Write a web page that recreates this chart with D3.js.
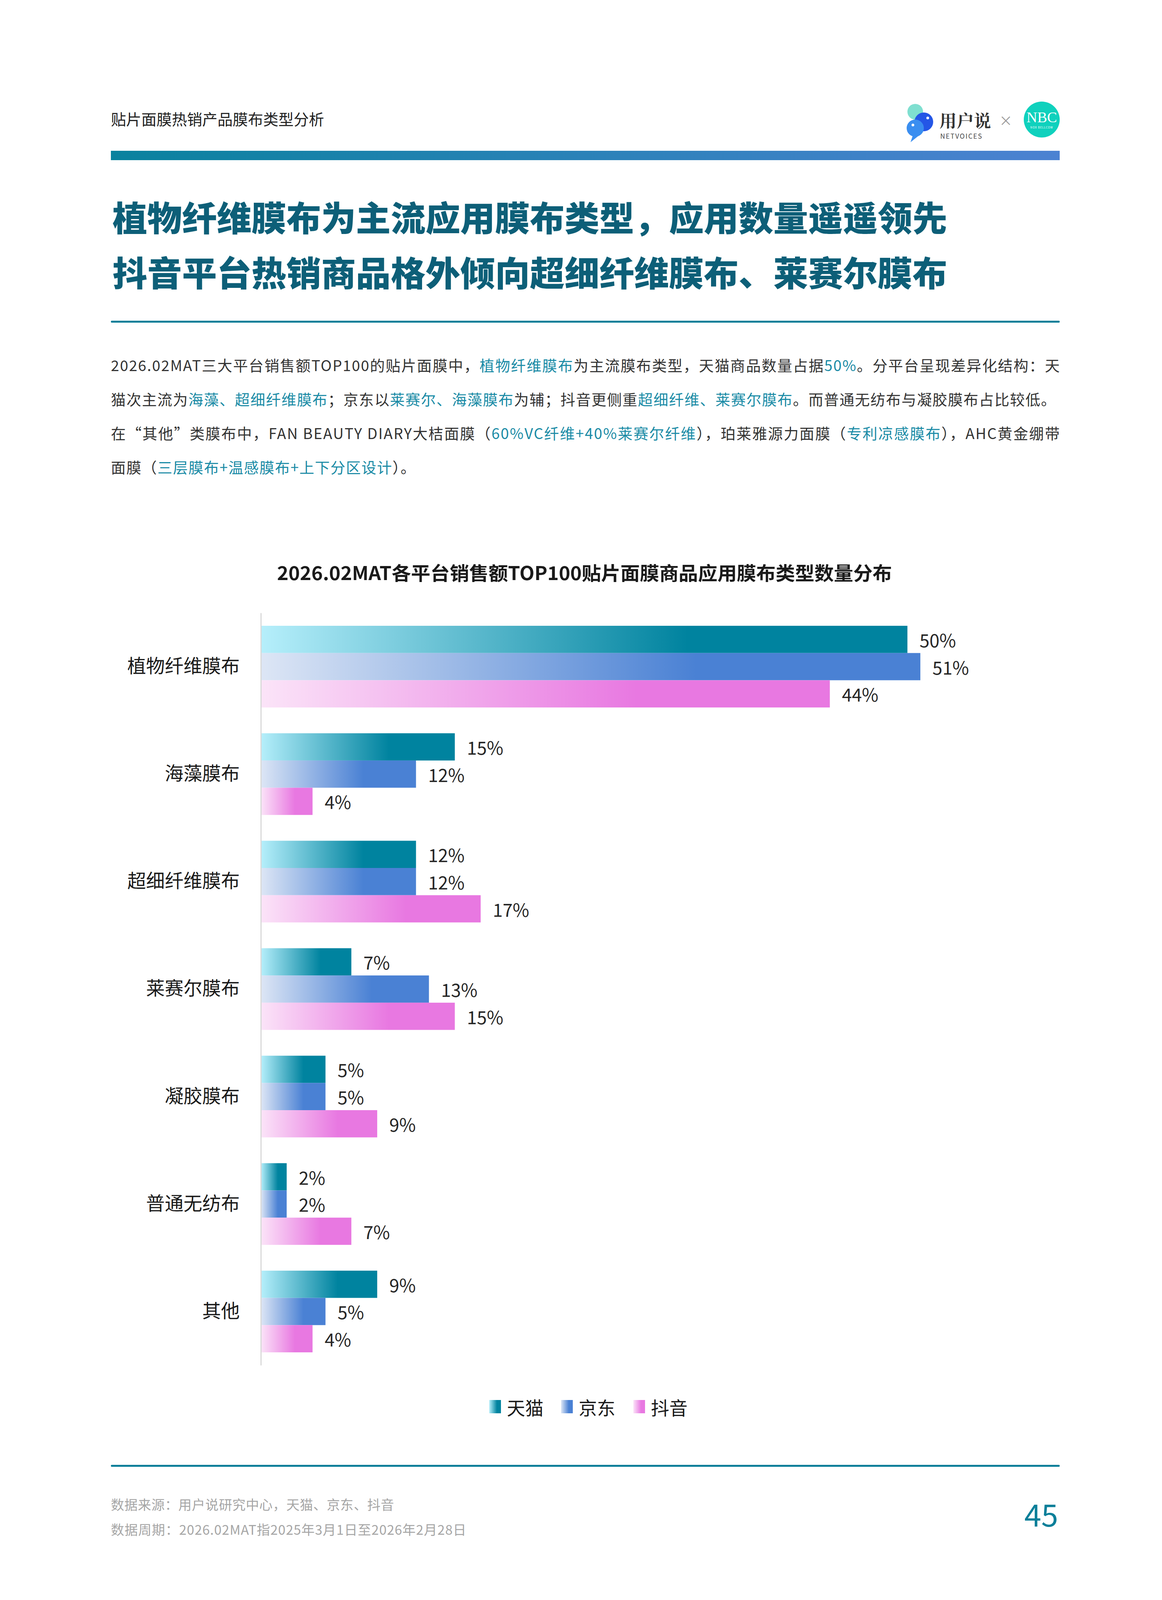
<!DOCTYPE html>
<html>
<head>
<meta charset="utf-8">
<script src="https://cdn.jsdelivr.net/npm/d3@7"></script>
<style>
  body { margin: 0; background: #fff; }
  text { font-family: "Noto Sans CJK SC", "Noto Sans", sans-serif; }
</style>
</head>
<body>
<div id="page"></div>
<script>
var svgWidth = 2976;
var svgHeight = 4210;

// chart data
var categories = ["植物纤维膜布", "海藻膜布", "超细纤维膜布", "莱赛尔膜布", "凝胶膜布", "普通无纺布", "其他"];
var platforms = ["天猫", "京东", "抖音"];
var tmallValues = [50, 15, 12, 7, 5, 2, 9];
var jdValues = [51, 12, 12, 13, 5, 2, 5];
var douyinValues = [44, 4, 17, 15, 9, 7, 4];

var headerText = "贴片面膜热销产品膜布类型分析";
var titleLines = ["植物纤维膜布为主流应用膜布类型，应用数量遥遥领先", "抖音平台热销商品格外倾向超细纤维膜布、莱赛尔膜布"];
var chartTitle = "2026.02MAT各平台销售额TOP100贴片面膜商品应用膜布类型数量分布";
var footerLines = ["数据来源：用户说研究中心，天猫、京东、抖音", "数据周期：2026.02MAT指2025年3月1日至2026年2月28日"];
var pageNumber = "45";

// paragraph: [text, highlighted]
var paraLines = [
  [["2026.02MAT三大平台销售额TOP100的贴片面膜中，", 0], ["植物纤维膜布", 1], ["为主流膜布类型，天猫商品数量占据", 0], ["50%", 1], ["。分平台呈现差异化结构：天", 0]],
  [["猫次主流为", 0], ["海藻、超细纤维膜布", 1], ["；京东以", 0], ["莱赛尔、海藻膜布", 1], ["为辅；抖音更侧重", 0], ["超细纤维、莱赛尔膜布", 1], ["。而普通无纺布与凝胶膜布占比较低。", 0]],
  [["在“其他”类膜布中，FAN BEAUTY DIARY大桔面膜（", 0], ["60%VC纤维+40%莱赛尔纤维", 1], ["），珀莱雅源力面膜（", 0], ["专利凉感膜布", 1], ["），AHC黄金绷带", 0]],
  [["面膜（", 0], ["三层膜布+温感膜布+上下分区设计", 1], ["）。", 0]]
];

var seriesColors = {
  "天猫": ["#b6effb", "#00839f"],
  "京东": ["#dde6f5", "#4a81d4"],
  "抖音": ["#fbe4f8", "#e878e1"]
};

var data = categories.map(function(c, i) {
  return { category: c, values: [tmallValues[i], jdValues[i], douyinValues[i]] };
});

var svg = d3.select("#page")
  .append("svg")
  .attr("width", svgWidth)
  .attr("height", svgHeight);

svg.append("rect").attr("width", svgWidth).attr("height", svgHeight).attr("fill", "#fff");

var defs = svg.append("defs");

platforms.forEach(function(p, i) {
  var g = defs.append("linearGradient")
    .attr("id", "grad" + i)
    .attr("x1", 0).attr("x2", 1).attr("y1", 0).attr("y2", 0);
  g.append("stop").attr("offset", 0).attr("stop-color", seriesColors[p][0]);
  g.append("stop").attr("offset", 0.66).attr("stop-color", seriesColors[p][1]);
  g.append("stop").attr("offset", 1).attr("stop-color", seriesColors[p][1]);
});

var hg = defs.append("linearGradient").attr("id", "headGrad");
hg.append("stop").attr("offset", 0).attr("stop-color", "#0a829e");
hg.append("stop").attr("offset", 1).attr("stop-color", "#4c82d2");

var left = 284, right = 2714;

// header
svg.append("text")
  .attr("x", left).attr("y", 303)
  .attr("dominant-baseline", "central")
  .style("font-size", "39px").attr("fill", "#222")
  .text(headerText);

// logos
var logo = svg.append("g").attr("transform", "translate(2322, 262)");
logo.append("circle").attr("cx", 22).attr("cy", 24).attr("r", 20).attr("fill", "#7fdfd0");
logo.append("circle").attr("cx", 44).attr("cy", 50).attr("r", 24).attr("fill", "#2456e6");
logo.append("circle").attr("cx", 22).attr("cy", 66).attr("r", 22).attr("fill", "#3a8ef0");
logo.append("path").attr("d", "M16,84 L10,102 L30,86 Z").attr("fill", "#3a8ef0");
logo.append("circle").attr("cx", 54).attr("cy", 40).attr("r", 3.5).attr("fill", "#fff");
logo.append("circle").attr("cx", 16).attr("cy", 58).attr("r", 3.5).attr("fill", "#fff");
logo.append("text").attr("x", 84).attr("y", 45)
  .attr("dominant-baseline", "central")
  .style("font-size", "44px").style("font-family", "'Noto Serif CJK SC', 'Noto Sans CJK SC', serif")
  .style("font-weight", 700).attr("fill", "#333").text("用户说");
logo.append("text").attr("x", 86).attr("y", 85)
  .attr("dominant-baseline", "central")
  .style("font-size", "17px").style("letter-spacing", "2px").attr("fill", "#444").text("NETVOICES");
svg.append("text").attr("x", 2576).attr("y", 307)
  .attr("text-anchor", "middle").attr("dominant-baseline", "central")
  .style("font-size", "34px").attr("fill", "#999").text("×");
var nbc = svg.append("g").attr("transform", "translate(2668, 306)");
nbc.append("circle").attr("r", 46).attr("fill", "#0fd1bd");
nbc.append("text").attr("y", -6).attr("text-anchor", "middle").attr("dominant-baseline", "central")
  .style("font-family", "'Liberation Serif', serif").style("font-size", "38px").attr("fill", "#fff").text("NBC");
nbc.append("text").attr("y", 20).attr("text-anchor", "middle").attr("dominant-baseline", "central")
  .style("font-size", "7px").style("letter-spacing", "1px").attr("fill", "#fff").text("NOX BELLCOW");

svg.append("rect")
  .attr("x", left).attr("y", 386)
  .attr("width", right - left).attr("height", 24)
  .attr("fill", "url(#headGrad)");

// main title
svg.selectAll(".title-line")
  .data(titleLines)
  .enter()
  .append("text")
  .attr("class", "title-line")
  .attr("x", left + 4)
  .attr("y", function(d, i) { return 552 + i * 141; })
  .attr("dominant-baseline", "central")
  .style("font-size", "88px").style("font-weight", 900)
  .attr("fill", "#0d5f78")
  .attr("textLength", 2138)
  .attr("lengthAdjust", "spacingAndGlyphs")
  .text(function(d) { return d; });

svg.append("rect")
  .attr("x", left).attr("y", 821)
  .attr("width", right - left).attr("height", 5)
  .attr("rx", 2)
  .attr("fill", "#0b7f99");

// paragraph
var para = svg.selectAll(".para-line")
  .data(paraLines)
  .enter()
  .append("text")
  .attr("class", "para-line")
  .attr("x", left)
  .attr("y", function(d, i) { return 933 + i * 87; })
  .attr("dominant-baseline", "central")
  .style("font-size", "38px")
  .each(function(d, i) {
    if (i < 3) {
      d3.select(this).attr("textLength", i === 1 ? 2420 : right - left).attr("lengthAdjust", "spacing");
    } else {
      d3.select(this).attr("textLength", 780).attr("lengthAdjust", "spacing");
    }
  });

para.selectAll("tspan")
  .data(function(d) { return d; })
  .enter()
  .append("tspan")
  .attr("fill", function(d) { return d[1] ? "#1a8ba6" : "#333"; })
  .text(function(d) { return d[0]; });

// chart
svg.append("text")
  .attr("x", 1497).attr("y", 1464)
  .attr("text-anchor", "middle").attr("dominant-baseline", "central")
  .style("font-size", "48px").style("font-weight", 700)
  .attr("fill", "#1a1a1a")
  .attr("textLength", 1575)
  .attr("lengthAdjust", "spacingAndGlyphs")
  .text(chartTitle);

var axisX = 668;

var y0 = d3.scaleBand()
  .domain(categories)
  .range([1569, 3495])
  .paddingInner(0.24)
  .paddingOuter(0.12);

var y1 = d3.scaleBand()
  .domain(platforms)
  .range([0, y0.bandwidth()]);

var xScale = d3.scaleLinear()
  .domain([0, 50])
  .range([axisX, 2324]);

var groups = svg.selectAll(".group")
  .data(data)
  .enter()
  .append("g")
  .attr("class", "group")
  .attr("transform", function(d) { return "translate(0," + y0(d.category) + ")"; });

var cells = groups.selectAll(".cell")
  .data(function(d) { return d.values.map(function(v, i) { return { platform: platforms[i], idx: i, value: v }; }); })
  .enter()
  .append("g")
  .attr("class", "cell");

cells.append("rect")
  .attr("x", xScale(0))
  .attr("y", function(d) { return y1(d.platform); })
  .attr("width", function(d) { return xScale(d.value) - xScale(0); })
  .attr("height", y1.bandwidth())
  .attr("fill", function(d) { return "url(#grad" + d.idx + ")"; });

cells.append("text")
  .attr("x", function(d) { return xScale(d.value) + 31; })
  .attr("y", function(d) { return y1(d.platform) + y1.bandwidth() / 2; })
  .attr("dominant-baseline", "central")
  .style("font-size", "46px")
  .attr("fill", "#262626")
  .text(function(d) { return d.value + "%"; });

var leftAxis = d3.axisLeft(y0).tickSize(0).tickPadding(54);
var axisG = svg.append("g")
  .attr("transform", "translate(" + axisX + ",0)")
  .call(leftAxis);
axisG.select(".domain").attr("stroke", "#d9d9d9").attr("stroke-width", 3);
axisG.selectAll(".tick text")
  .style("font-family", "'Noto Sans CJK SC', sans-serif")
  .style("font-size", "48px")
  .attr("fill", "#1a1a1a");

// legend
var legendX = [1253, 1437, 1622];
var legend = svg.selectAll(".legend")
  .data(platforms)
  .enter()
  .append("g")
  .attr("class", "legend")
  .attr("transform", function(d, i) { return "translate(" + legendX[i] + ",3601)"; });
legend.append("rect")
  .attr("x", 0).attr("y", -17)
  .attr("width", 30).attr("height", 34)
  .attr("fill", function(d, i) { return "url(#grad" + i + ")"; });
legend.append("text")
  .attr("x", 45).attr("y", 0)
  .attr("dominant-baseline", "central")
  .style("font-size", "47px")
  .attr("fill", "#1a1a1a")
  .text(function(d) { return d; });

// footer
svg.append("rect")
  .attr("x", left).attr("y", 3750)
  .attr("width", right - left).attr("height", 5)
  .attr("rx", 2)
  .attr("fill", "#0b7f99");

svg.selectAll(".footer")
  .data(footerLines)
  .enter()
  .append("text")
  .attr("class", "footer")
  .attr("x", left)
  .attr("y", function(d, i) { return 3850 + i * 64; })
  .attr("dominant-baseline", "central")
  .style("font-size", "34px")
  .attr("fill", "#a6a6a6")
  .attr("textLength", function(d, i) { return i === 0 ? 725 : 910; })
  .attr("lengthAdjust", "spacing")
  .text(function(d) { return d; });

svg.append("text")
  .attr("x", right - 4).attr("y", 3874)
  .attr("text-anchor", "end").attr("dominant-baseline", "central")
  .style("font-size", "78px")
  .attr("fill", "#0b7f99")
  .text(pageNumber);
</script>
</body>
</html>
